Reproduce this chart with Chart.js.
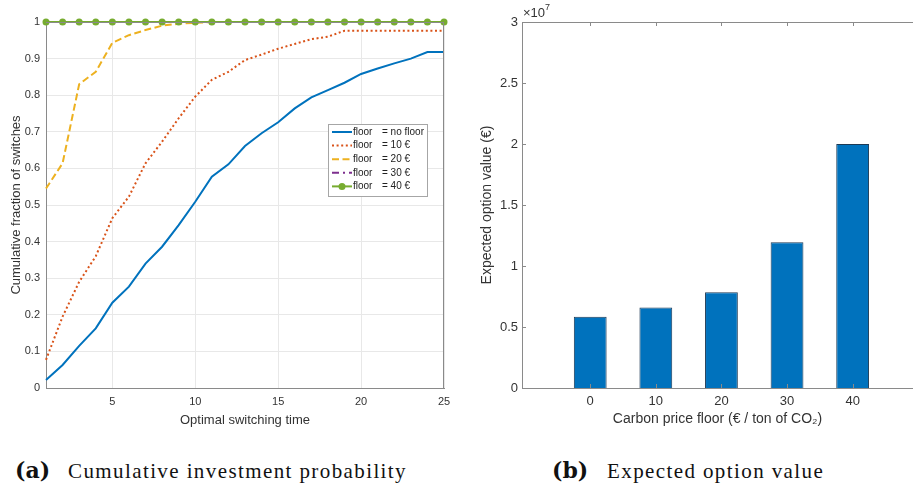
<!DOCTYPE html>
<html>
<head>
<meta charset="utf-8">
<script src="https://cdn.jsdelivr.net/npm/chart.js@4.4.0/dist/chart.umd.min.js"></script>
<style>
  body { margin: 0; background: #fff; width: 913px; height: 487px; position: relative; overflow: hidden; }
  #cumChart { position: absolute; left: 0; top: 0; }
  #optChart { position: absolute; left: 460px; top: 0; }
  .cap { position: absolute; top: 458px; line-height: 26px; font-family: "Liberation Serif", serif; font-size: 21px; letter-spacing: 1.4px; color: #111; white-space: nowrap; }
  .tag { position: absolute; top: 457px; line-height: 26px; font-family: "DejaVu Serif", serif; font-weight: bold; font-size: 22px; color: #111; }
</style>
</head>
<body>
<canvas id="cumChart" width="460" height="440"></canvas>
<canvas id="optChart" width="453" height="440"></canvas>
<div class="tag" style="left:15px">(a)</div>
<div class="cap" style="left:68px">Cumulative investment probability</div>
<div class="tag" style="left:552px">(b)</div>
<div class="cap" style="left:607px">Expected option value</div>
<script>
// --- data: panel (a) ---
const switchTimes = [1, 2, 3, 4, 5, 6, 7, 8, 9, 10, 11, 12, 13, 14, 15, 16, 17, 18, 19, 20, 21, 22, 23, 24, 25];
const noFloor  = [0.022, 0.063, 0.115, 0.163, 0.233, 0.277, 0.340, 0.386, 0.445, 0.509, 0.577, 0.611, 0.661, 0.696, 0.726, 0.764, 0.794, 0.814, 0.834, 0.858, 0.873, 0.887, 0.900, 0.918, 0.918];
const floor10  = [0.077, 0.195, 0.290, 0.360, 0.464, 0.523, 0.614, 0.673, 0.737, 0.796, 0.842, 0.864, 0.896, 0.911, 0.927, 0.940, 0.953, 0.960, 0.976, 0.976, 0.976, 0.976, 0.976, 0.976, 0.976];
const floor20  = [0.545, 0.614, 0.830, 0.864, 0.943, 0.964, 0.978, 0.990, 0.995, 0.998, 1, 1, 1, 1, 1, 1, 1, 1, 1, 1, 1, 1, 1, 1, 1];
const floor30  = [1, 1, 1, 1, 1, 1, 1, 1, 1, 1, 1, 1, 1, 1, 1, 1, 1, 1, 1, 1, 1, 1, 1, 1, 1];
const floor40  = [1, 1, 1, 1, 1, 1, 1, 1, 1, 1, 1, 1, 1, 1, 1, 1, 1, 1, 1, 1, 1, 1, 1, 1, 1];
const floorNames = ['no floor', '10 €', '20 €', '30 €', '40 €'];
const timeTicks = [5, 10, 15, 20, 25];

// --- data: panel (b) ---
const priceFloors = [0, 10, 20, 30, 40];
const optionValues = [0.585e7, 0.66e7, 0.785e7, 1.195e7, 2.0e7];

const FONT = 'Liberation Sans';
const TXT = '#333333';
const AXIS = '#8a8a8a';

const toXY = arr => switchTimes.map((t, i) => ({ x: t, y: arr[i] }));

// box round the plot area, with inward ticks when asked
const boxPlugin = {
    id: 'box',
    afterDraw(chart, args, opts) {
        const { ctx, chartArea: a } = chart;
        ctx.save();
        ctx.strokeStyle = AXIS;
        ctx.lineWidth = 1;
        ctx.beginPath();
        ctx.moveTo(a.left, a.top + 0.5); ctx.lineTo(a.right, a.top + 0.5);
        if (!opts.noRight) { ctx.moveTo(a.right - 0.5, a.top); ctx.lineTo(a.right - 0.5, a.bottom); }
        ctx.stroke();
        if (opts.ticks) {
            const xs = chart.scales.x, ys = chart.scales.y;
            ctx.beginPath();
            xs.ticks.forEach(t => {
                const px = Math.round(xs.getPixelForValue(t.value)) + 0.5;
                ctx.moveTo(px, a.bottom); ctx.lineTo(px, a.bottom - 4);
                ctx.moveTo(px, a.top); ctx.lineTo(px, a.top + 4);
            });
            ys.ticks.forEach(t => {
                const py = Math.round(ys.getPixelForValue(t.value)) + 0.5;
                ctx.moveTo(a.left, py); ctx.lineTo(a.left + 4, py);
            });
            ctx.stroke();
        }
        if (opts.exponent) {
            ctx.fillStyle = TXT;
            ctx.textBaseline = 'alphabetic';
            ctx.font = '13px ' + FONT;
            ctx.fillText('×10', a.left + 1, a.top - 5);
            const w = ctx.measureText('×10').width;
            ctx.font = '9px ' + FONT;
            ctx.fillText(opts.exponent, a.left + 1 + w, a.top - 12);
        }
        ctx.restore();
    }
};

// legend drawn inside the plot, like the matlab one
const boxLegend = {
    id: 'boxLegend',
    afterDraw(chart, args, opts) {
        if (!opts.display) return;
        const { ctx } = chart;
        const x = opts.x, y = opts.y, w = opts.w, rowH = opts.rowH;
        const sets = chart.data.datasets;
        ctx.save();
        ctx.fillStyle = '#fff';
        ctx.fillRect(x, y, w, rowH * sets.length + 4);
        ctx.strokeStyle = '#a6a6a6';
        ctx.lineWidth = 1;
        ctx.strokeRect(x + 0.5, y + 0.5, w, rowH * sets.length + 4);
        sets.forEach((ds, i) => {
            const cy = y + 8 + i * rowH;
            ctx.strokeStyle = ds.borderColor;
            ctx.lineWidth = ds.borderWidth;
            ctx.setLineDash(ds.borderDash || []);
            ctx.beginPath();
            ctx.moveTo(x + 4, cy); ctx.lineTo(x + 24, cy);
            ctx.stroke();
            ctx.setLineDash([]);
            if (ds.pointRadius > 0) {
                ctx.fillStyle = ds.pointBackgroundColor;
                ctx.beginPath(); ctx.arc(x + 14, cy, ds.pointRadius, 0, Math.PI * 2); ctx.fill();
            }
            ctx.fillStyle = '#222';
            ctx.font = '10px ' + FONT;
            ctx.textBaseline = 'middle';
            ctx.fillText('floor', x + 25, cy);
            ctx.fillText('= ' + floorNames[i], x + 54, cy);
        });
        ctx.restore();
    }
};

const seriesStyle = [
    { data: noFloor, color: '#0072BD', dash: [] },
    { data: floor10, color: '#D95319', dash: [2, 2.6] },
    { data: floor20, color: '#EDB120', dash: [7, 3.5] },
    { data: floor30, color: '#7E2F8E', dash: [7, 4, 2, 4] },
    { data: floor40, color: '#77AC30', dash: [], marker: true }
];

new Chart(document.getElementById('cumChart'), {
    type: 'line',
    data: {
        datasets: seriesStyle.map((s, i) => ({
            label: 'floor = ' + floorNames[i],
            data: toXY(s.data),
            borderColor: s.color,
            backgroundColor: s.color,
            borderWidth: 2,
            borderDash: s.dash,
            pointRadius: s.marker ? 3.5 : 0,
            pointBackgroundColor: s.color,
            pointBorderWidth: 0,
            tension: 0,
            clip: false,
            order: seriesStyle.length - i
        }))
    },
    options: {
        responsive: false,
        animation: false,
        layout: { padding: { left: 9, right: 16, top: 22, bottom: 12 } },
        plugins: {
            legend: { display: false },
            tooltip: { enabled: false },
            box: { ticks: false },
            boxLegend: { display: true, x: 328, y: 124, w: 99, rowH: 13.6 }
        },
        scales: {
            x: {
                type: 'linear', min: 1, max: 25,
                afterBuildTicks: s => { s.ticks = timeTicks.map(v => ({ value: v })); },
                afterFit: s => { s.height = 40; },
                grid: { color: '#e8e8e8', drawTicks: false },
                border: { color: AXIS },
                ticks: { font: { family: FONT, size: 11 }, color: TXT, padding: 7, maxRotation: 0 },
                title: { display: true, text: 'Optimal switching time', font: { family: FONT, size: 13 }, color: TXT, padding: 0 }
            },
            y: {
                min: 0, max: 1,
                afterFit: s => { s.width = 37; },
                grid: { color: '#e8e8e8', drawTicks: false },
                border: { color: AXIS },
                ticks: { stepSize: 0.1, font: { family: FONT, size: 11 }, color: TXT, padding: 6,
                         callback: v => String(Math.round(v * 10) / 10) },
                title: { display: true, text: 'Cumulative fraction of switches', font: { family: FONT, size: 13 }, color: TXT, padding: 0 }
            }
        }
    },
    plugins: [boxPlugin, boxLegend]
});

new Chart(document.getElementById('optChart'), {
    type: 'bar',
    data: {
        datasets: [{
            data: priceFloors.map((p, i) => ({ x: p, y: optionValues[i] })),
            backgroundColor: '#0072BD',
            borderColor: '#1d3a55',
            borderWidth: 1,
            barPercentage: 0.5,
            categoryPercentage: 1
        }]
    },
    options: {
        responsive: false,
        animation: false,
        layout: { padding: { left: 19, right: 0, top: 22, bottom: 12 } },
        plugins: {
            legend: { display: false },
            tooltip: { enabled: false },
            box: { ticks: true, exponent: '7', noRight: true },
            boxLegend: { display: false }
        },
        scales: {
            x: {
                type: 'linear', min: -10.4, max: 49.2, offset: false,
                afterBuildTicks: s => { s.ticks = priceFloors.map(v => ({ value: v })); },
                afterFit: s => { s.height = 40; },
                grid: { display: false, drawTicks: false },
                border: { color: AXIS },
                ticks: { font: { family: FONT, size: 13 }, color: TXT, padding: 6, maxRotation: 0 },
                title: { display: true, text: 'Carbon price floor (€ / ton of CO₂)', font: { family: FONT, size: 14 }, color: TXT, padding: 0 }
            },
            y: {
                min: 0, max: 3e7,
                afterFit: s => { s.width = 43; },
                grid: { display: false, drawTicks: false },
                border: { color: AXIS },
                ticks: { stepSize: 0.5e7, font: { family: FONT, size: 13 }, color: TXT, padding: 4,
                         callback: v => String(v / 1e7) },
                title: { display: true, text: 'Expected option value (€)', font: { family: FONT, size: 14 }, color: TXT, padding: 0 }
            }
        }
    },
    plugins: [boxPlugin]
});
</script>
</body>
</html>
